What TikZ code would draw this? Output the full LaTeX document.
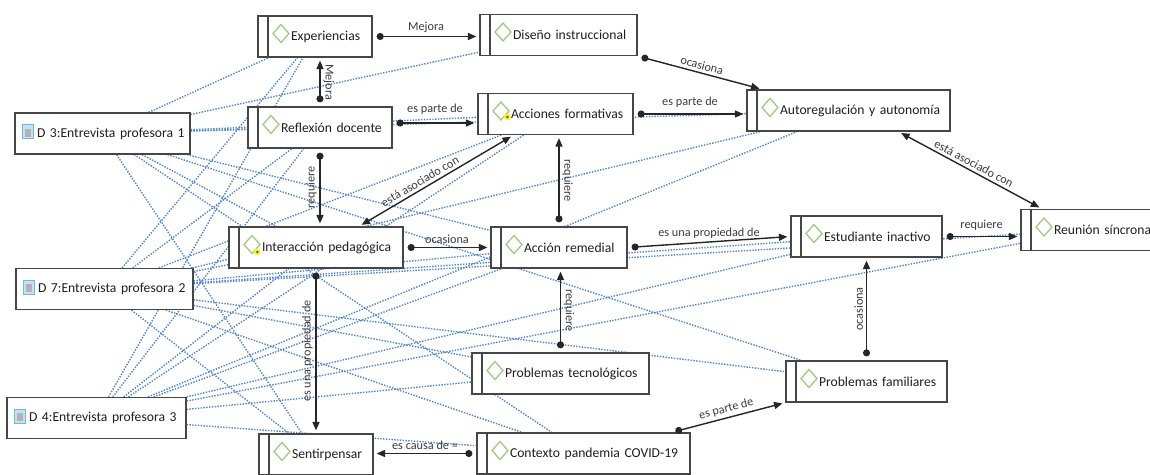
\documentclass[tikz,border=0pt]{standalone}
\usepackage{fontspec}
\setmainfont{Carlito}
\usetikzlibrary{arrows.meta,backgrounds}
\newlength\px
\setlength\px{0.025cm}
\definecolor{boxline}{HTML}{464646}
\definecolor{codegreen}{HTML}{9CCB7E}
\definecolor{quoteblue}{HTML}{4F86D6}
\definecolor{docblue}{HTML}{6FB6E0}
\definecolor{labelgray}{HTML}{3C3C3C}
\tikzset{
  codebox/.style={draw=boxline, line width=0.9pt, fill=white, text=black!88,
    font=\fontsize{9.7}{11}\selectfont, text width=#1\px, inner xsep=0pt,
    minimum height=41\px, align=left,
    execute at begin node={\hspace*{33\px}},
    path picture={
      \draw[boxline, line width=0.9pt] ([xshift=10\px]path picture bounding box.north west)
        -- ([xshift=10\px]path picture bounding box.south west);
      \draw[codegreen, line width=0.9pt] ([xshift=15\px,yshift=3\px]path picture bounding box.west)
        -- ++(8\px,9\px) -- ++(8\px,-9\px) -- ++(-8\px,-9\px) -- cycle;
    }},
  docbox/.style={draw=boxline, line width=0.9pt, fill=white, text=black!88,
    font=\fontsize{9.7}{11}\selectfont, text width=#1\px, inner xsep=0pt,
    minimum height=41\px, align=left,
    execute at begin node={\hspace*{22\px}},
    path picture={
      \fill[docblue!40] ([xshift=7\px,yshift=-5\px]path picture bounding box.west) rectangle ++(11\px,14\px);
      \fill[gray!60] ([xshift=10\px,yshift=-3\px]path picture bounding box.west) rectangle ++(6\px,8\px);
      \draw[docblue, line width=0.5pt] ([xshift=7\px,yshift=-5\px]path picture bounding box.west) rectangle ++(11\px,14\px);
    }},
  quotelink/.style={draw=quoteblue, densely dotted, line width=1pt},
  relation/.style={draw=black!85, line width=1pt,
    {Circle[length=5pt]}-{Triangle[length=6pt,width=5pt]}, shorten <=4\px, shorten >=3\px},
  assoc/.style={draw=black!85, line width=1pt,
    {Triangle[length=6pt,width=5pt]}-{Triangle[length=6pt,width=5pt]}, shorten <=3\px, shorten >=3\px},
  rellabel/.style={font=\fontsize{8.7}{10}\selectfont, text=labelgray, inner sep=2pt}
}
\begin{document}
\begin{tikzpicture}[x=0.025cm, y=-0.025cm]
  \useasboundingbox (0,0) rectangle (1150,474);

  % Codes
  \node[codebox=114] (exp) at (315,36.5) {Experiencias};
  \node[codebox=157] (dis) at (558.5,35) {Diseño instruccional};
  \node[codebox=144] (refl) at (320,127.5) {Reflexión docente};
  \node[codebox=155] (acc) at (555.5,114) {Acciones formativas};
  \node[codebox=203] (auto) at (848.5,110.5) {Autoregulación y autonomía};
  \node[codebox=174] (inter) at (316,247.5) {Interacción pedagógica};
  \node[codebox=136] (rem) at (559,247.5) {Acción remedial};
  \node[codebox=151] (est) at (866.5,236.5) {Estudiante inactivo};
  \node[codebox=140] (reu) at (1091,230) {Reunión síncrona};
  \node[codebox=177] (tec) at (560.5,373.5) {Problemas tecnológicos};
  \node[codebox=161] (fam) at (866.5,381.5) {Problemas familiares};
  \node[codebox=213] (ctx) at (583.5,453.5) {Contexto pandemia COVID-19};
  \node[codebox=114] (sent) at (316,454.5) {Sentirpensar};

  % Documents
  \node[docbox=175] (d3) at (102.5,133.5) {D 3:Entrevista profesora 1};
  \node[docbox=177] (d7) at (104.5,289) {D 7:Entrevista profesora 2};
  \node[docbox=179] (d4) at (96.5,418) {D 4:Entrevista profesora 3};

  % selection marks
  \fill[yellow!80] ([xshift=30\px,yshift=-3\px]acc.west) circle (3.5\px);
  \fill[olive!70!black] ([xshift=30\px,yshift=-3\px]acc.west) circle (1.5\px);
  \fill[yellow!80] ([xshift=29\px,yshift=-4.5\px]inter.west) circle (3.5\px);
  \fill[olive!70!black] ([xshift=29\px,yshift=-4.5\px]inter.west) circle (1.5\px);

  % Quotation links
  \begin{scope}[on background layer]
    \fill[white] (0,0) rectangle (1150,474);
    \foreach \code in {exp,dis,refl,acc,auto,inter,rem,fam,ctx,sent}
      \draw[quotelink] (d3) -- (\code);
    \foreach \code in {exp,refl,acc,auto,inter,rem,est,reu,tec,fam,ctx,sent}
      \draw[quotelink] (d7) -- (\code);
    \foreach \code in {exp,refl,acc,auto,inter,rem,est,reu,tec,ctx}
      \draw[quotelink] (d4) -- (\code);
  \end{scope}

  % Relations
  \draw[relation] (exp.east) -- node[rellabel, above] {Mejora} (exp.east -| dis.west);
  \draw[relation] (refl.north) -- node[rellabel, rotate=-90, anchor=south] {Mejora} (refl.north |- exp.south);
  \draw[relation] ([yshift=4.5\px]refl.east) -- node[rellabel, above=5\px] {es parte de} ([yshift=4.5\px]refl.east -| acc.west);
  \draw[relation] (refl.south) -- node[rellabel, rotate=90, anchor=south] {requiere} (refl.south |- inter.north);
  \draw[assoc] ([xshift=43\px]inter.north) -- node[rellabel, sloped, above, pos=0.42] {está asociado con} ([xshift=-42\px]acc.south);
  \draw[relation] (inter.east) -- node[rellabel, above] {ocasiona} (rem.west);
  \draw[relation] (inter.south) -- node[rellabel, rotate=90, anchor=south] {es una propiedad de} (inter.south |- sent.north);
  \draw[relation] (rem.north) -- node[rellabel, rotate=-90, anchor=south] {requiere} (rem.north |- acc.south);
  \draw[relation] (tec.north) -- node[rellabel, rotate=-90, anchor=south] {requiere} (tec.north |- rem.south);
  \draw[relation] (rem.east) -- node[rellabel, above] {es una propiedad de} (est.west);
  \draw[relation] (est.east) -- node[rellabel, above=3\px] {requiere} (est.east -| reu.west);
  \draw[relation] (dis.south east) -- node[rellabel, sloped, above] {ocasiona} ([xshift=16\px]auto.north west);
  \draw[relation] (acc.east) -- node[rellabel, above=3\px] {es parte de} (acc.east -| auto.west);
  \draw[assoc] ([xshift=50\px]auto.south) -- node[rellabel, sloped, above] {está asociado con} ([xshift=-49\px]reu.north);
  \draw[relation] (fam.north) -- node[rellabel, rotate=90, anchor=south] {ocasiona} (fam.north |- est.south);
  \draw[relation] ([xshift=88\px]ctx.north) -- node[rellabel, sloped, above] {es parte de} (fam.south west);
  \draw[relation] (ctx.west) -- node[rellabel, above] {es causa de =} (ctx.west -| sent.east);
\end{tikzpicture}
\end{document}
